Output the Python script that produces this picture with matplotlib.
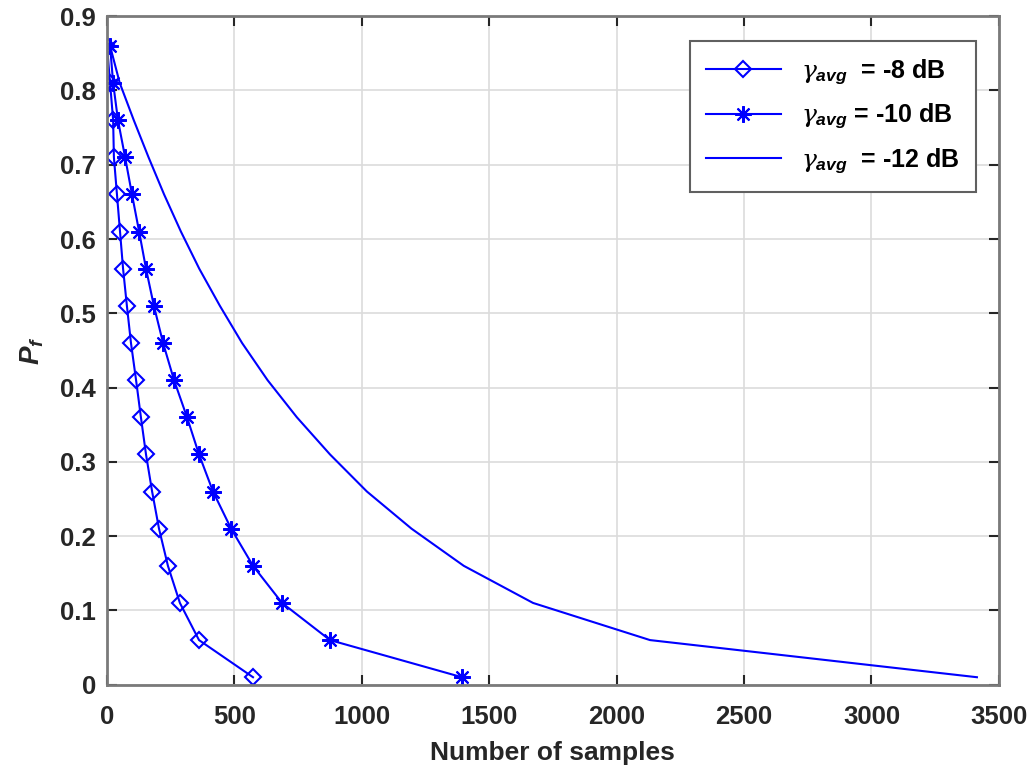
import numpy as np
import matplotlib.pyplot as plt

plt.rcParams['font.family'] = 'Liberation Sans'
plt.rcParams['mathtext.fontset'] = 'custom'
plt.rcParams['mathtext.it'] = 'DejaVu Serif:italic'
plt.rcParams['mathtext.bfit'] = 'Liberation Sans:bold:italic'
plt.rcParams['mathtext.rm'] = 'Liberation Sans'

# false alarm probability levels (same for all three SNR cases)
pf = [0.86, 0.81, 0.76, 0.71, 0.66, 0.61, 0.56, 0.51, 0.46,
      0.41, 0.36, 0.31, 0.26, 0.21, 0.16, 0.11, 0.06, 0.01]

# required number of samples for each average SNR
n_8db = [0, 12, 24, 27, 39, 51, 63, 78, 94,
         114, 133, 153, 177, 204, 239, 286, 361, 573]
n_10db = [12, 24, 43, 71, 98, 126, 153, 184, 220,
          263, 314, 361, 416, 487, 573, 687, 875, 1393]
n_12db = [12, 50, 105, 163, 224, 290, 362, 443, 530,
          630, 745, 875, 1020, 1195, 1400, 1672, 2131, 3414]

labels = [r'$\gamma_{\mathbfit{avg}}$  = -8 dB',
          r'$\gamma_{\mathbfit{avg}}$ = -10 dB',
          r'$\gamma_{\mathbfit{avg}}$  = -12 dB']

axis_col = '#262626'

fig = plt.figure(figsize=(10.34, 7.71), dpi=100)
ax = fig.add_axes([0.1035, 0.112, 0.8625, 0.867])

ax.plot(n_8db, pf, color='blue', lw=1.5, marker='D', markersize=8.5,
        markerfacecolor='none', markeredgewidth=1.5, label=labels[0])
ax.plot(n_10db, pf, color='blue', lw=1.5, marker=(8, 2, 0), markersize=12,
        markeredgewidth=1.5, label=labels[1])
ax.plot(n_12db, pf, color='blue', lw=1.5, label=labels[2])

ax.set_xlim(0, 3500)
ax.set_ylim(0, 0.9)
ax.set_xticks(np.arange(0, 3501, 500))
ax.set_yticks(np.arange(0, 0.91, 0.1))
ax.set_yticklabels(['0', '0.1', '0.2', '0.3', '0.4', '0.5', '0.6', '0.7', '0.8', '0.9'])

ax.grid(True, color='#dcdcdc', lw=1.2)
ax.set_axisbelow(True)
for s in ax.spines.values():
    s.set_color('#7a7a7a')
    s.set_linewidth(2)
ax.tick_params(direction='in', length=7, width=1.5, color=axis_col,
               top=True, right=True, labelsize=18.5, labelcolor=axis_col)
ax.tick_params(axis='x', pad=15)
ax.tick_params(axis='y', pad=8)
for lab in ax.get_xticklabels() + ax.get_yticklabels():
    lab.set_fontweight('bold')

ax.set_xlabel('Number of samples', fontsize=19, fontweight='bold', color=axis_col, labelpad=8)
ax.set_ylabel(r'$\mathbfit{P}_{\mathbfit{f}}$', fontsize=20, color=axis_col, labelpad=10)

leg = ax.legend(loc='upper right', prop={'weight': 'bold', 'size': 18},
                fancybox=False, framealpha=1, edgecolor='#606060',
                handlelength=3.0, handletextpad=0.8, borderpad=0.65, labelspacing=0.6,
                bbox_to_anchor=(0.988, 0.981))
leg.get_frame().set_linewidth(1.5)

plt.savefig('out.png', dpi=100)
